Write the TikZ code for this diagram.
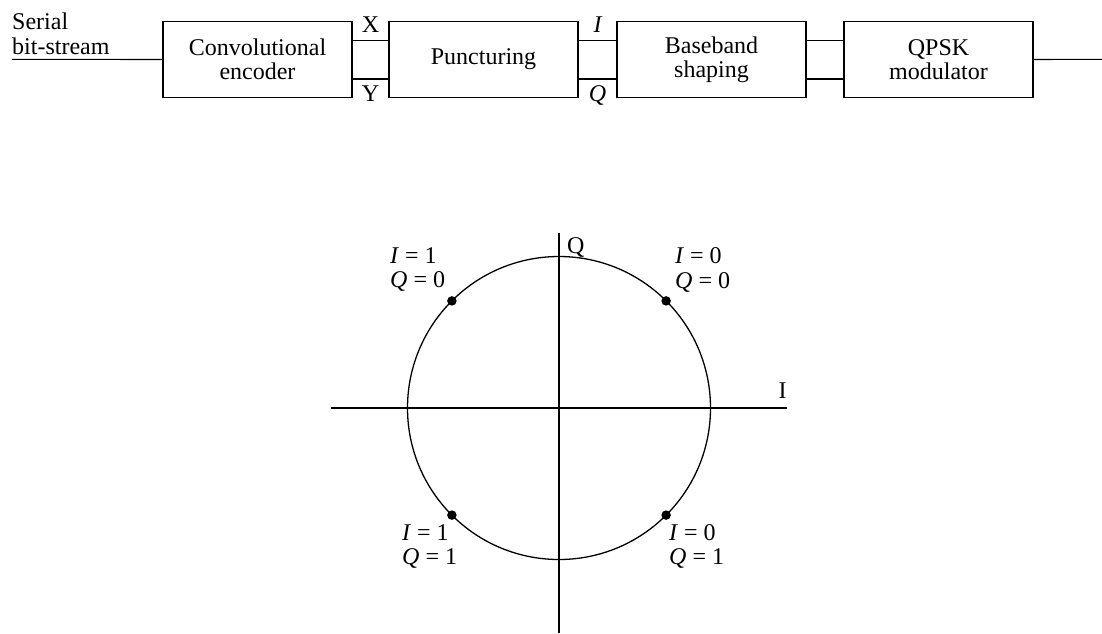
\documentclass[tikz,border=0pt]{standalone}
\usepackage{fontspec}
\setmainfont{Liberation Serif}
\begin{document}
\begin{tikzpicture}[x=1pt,y=-1pt,
  txt/.style={font=\fontsize{24}{24}\selectfont, inner sep=0pt},
  block/.style={txt, draw, line width=1.2pt, minimum width=189pt, minimum height=75.6pt, align=center},
  wire/.style={line width=1.1pt},
  axis/.style={line width=2pt},
  ring/.style={line width=1.3pt},
  dot/.style={circle, fill, inner sep=0pt, minimum size=9.5pt}]
\useasboundingbox (0,0) rectangle (1102,633);

% transmitter chain
\node[block] (conv)  at (257.5,59.5) {Convolutional\\encoder};
\node[block] (punct) at (483.5,59.5) {Puncturing};
\node[block] (base)  at (711.5,59.5) {Baseband\\shaping};
\node[block] (qpsk)  at (938.5,59.5) {QPSK\\modulator};

\coordinate (hi) at (0,40.7);
\coordinate (lo) at (0,79);
\coordinate (in) at (12,59.3);
\coordinate (out) at (1102,59.3);

\node[txt, anchor=base west] (lab1) at (12,29) {Serial};
\node[txt, anchor=base west] (lab2) at (12,54) {bit-stream};

\draw[wire] (in) -- (conv.west);
\draw[wire] (conv.east |- hi) -- (punct.west |- hi);
\draw[wire] (conv.east |- lo) -- (punct.west |- lo);
\draw[wire] (punct.east |- hi) -- (base.west |- hi);
\draw[wire] (punct.east |- lo) -- (base.west |- lo);
\draw[wire] (base.east |- hi) -- (qpsk.west |- hi);
\draw[wire] (base.east |- lo) -- (qpsk.west |- lo);
\draw[wire] (qpsk.east) -- (out);

\node[txt, anchor=base] (lx) at (370.5,32) {X};
\node[txt, anchor=base] (ly) at (370.5,101) {Y};
\node[txt, anchor=base] (li) at (597.5,32) {\itshape I};
\node[txt, anchor=base] (lq) at (597.5,101) {\itshape Q};

% constellation
\coordinate (c) at (559,408);
\coordinate (xl) at (331,408);
\coordinate (xr) at (787,408);
\coordinate (yt) at (559,233);
\coordinate (yb) at (559,633);
\draw[axis] (xl) -- (xr);
\draw[axis] (yt) -- (yb);
\draw[ring] (c) circle[radius=151.5pt];

\node[txt, anchor=base] (ax) at (782.5,398) {I};
\node[txt, anchor=base west] (ay) at (567,253) {Q};

\node[dot] (p00) at (666.1,300.9) {};
\node[dot] (p10) at (451.9,300.9) {};
\node[dot] (p11) at (451.9,515.1) {};
\node[dot] (p01) at (666.1,515.1) {};

\node[txt, anchor=base west] (t10a) at (390,263) {\itshape I\/\upshape\ = 1};
\node[txt, anchor=base west] (t10b) at (390,287) {\itshape Q\/\upshape\ = 0};
\node[txt, anchor=base west] (t00a) at (675,263) {\itshape I\/\upshape\ = 0};
\node[txt, anchor=base west] (t00b) at (675,288) {\itshape Q\/\upshape\ = 0};
\node[txt, anchor=base west] (t11a) at (402,540) {\itshape I\/\upshape\ = 1};
\node[txt, anchor=base west] (t11b) at (402,564) {\itshape Q\/\upshape\ = 1};
\node[txt, anchor=base west] (t01a) at (669,540) {\itshape I\/\upshape\ = 0};
\node[txt, anchor=base west] (t01b) at (669,564) {\itshape Q\/\upshape\ = 1};
\end{tikzpicture}
\end{document}
